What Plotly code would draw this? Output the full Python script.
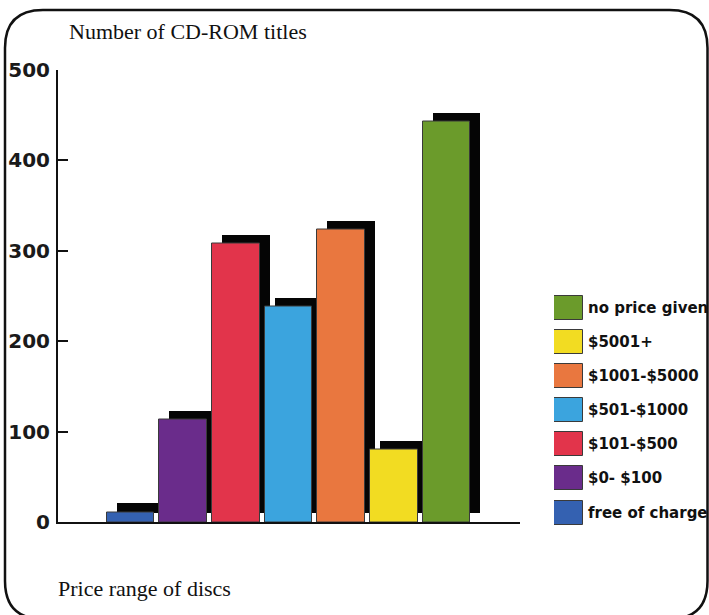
import plotly.graph_objects as go

# Number of CD-ROM titles per price range
categories = ["free of charge", "$0- $100", "$101-$500", "$501-$1000",
              "$1001-$5000", "$5001+", "no price given"]
titles_count = [11, 113, 308, 238, 323, 80, 442]
bar_colors = ["#3461b1", "#6a2c8b", "#e2344b", "#3ba4de",
              "#e9773f", "#f2dc22", "#6b9b2b"]
y_ticks = [0, 100, 200, 300, 400, 500]

W, H = 709, 615


def fx(x):
    return x / W


def fy(y):
    return 1 - y / H


# plot-area geometry in pixels
left_px, right_px = 58, 520
bottom_px, top_px = 522, 69.5
pitch = 52.67
first_center = 130.5
x_range = [(left_px - first_center) / pitch, (right_px - first_center) / pitch]
idx = list(range(len(categories)))

bar_w = 0.9
shadow_dx = 10 / pitch
shadow_base = 10

fig = go.Figure()

# black drop shadows behind each bar
fig.add_trace(go.Bar(
    x=idx, y=titles_count, base=shadow_base, width=bar_w,
    offset=-bar_w / 2 + shadow_dx,
    marker=dict(color="#050505", line=dict(width=0)),
    hoverinfo="skip", showlegend=False,
))

# coloured bars
fig.add_trace(go.Bar(
    x=idx, y=titles_count, width=bar_w,
    marker=dict(color=bar_colors, line=dict(width=1, color="#3a3a3a")),
    showlegend=False,
))

# legend swatches on their own axes
sw_pitch = 34.08
sw_bottom_center = 512.5
n = len(categories)
y2_lo = -(H - sw_bottom_center) / sw_pitch
y2_hi = sw_bottom_center / sw_pitch
fig.add_trace(go.Bar(
    y=idx, x=[1] * n, orientation="h", width=24 / sw_pitch,
    marker=dict(color=bar_colors, line=dict(width=1, color="#3a3a3a")),
    xaxis="x2", yaxis="y2", hoverinfo="skip", showlegend=False,
))

annotations = []
for i, name in enumerate(categories):
    annotations.append(dict(
        xref="x2", yref="y2", x=1, y=i, text=name, showarrow=False,
        xanchor="left", yanchor="middle", xshift=3,
        font=dict(family="DejaVu Sans", size=15, color="#111", weight="bold"),
    ))

annotations.append(dict(
    xref="paper", yref="paper", x=fx(67), y=fy(32), text="Number of CD-ROM titles",
    showarrow=False, xanchor="left", yanchor="middle",
    font=dict(family="Liberation Serif", size=22, color="#111"),
))
annotations.append(dict(
    xref="paper", yref="paper", x=fx(56), y=fy(588), text="Price range of discs",
    showarrow=False, xanchor="left", yanchor="middle",
    font=dict(family="Liberation Serif", size=22, color="#111"),
))

# rounded frame around the whole chart
L, T, R, B, r = 5, 10, 707.5, 619, 38
frame = (
    f"M {fx(L)},{fy(T + r)} "
    f"Q {fx(L)},{fy(T)} {fx(L + r)},{fy(T)} "
    f"L {fx(R - r)},{fy(T)} "
    f"Q {fx(R)},{fy(T)} {fx(R)},{fy(T + r)} "
    f"L {fx(R)},{fy(B - r)} "
    f"Q {fx(R)},{fy(B)} {fx(R - r)},{fy(B)} "
    f"L {fx(L + r)},{fy(B)} "
    f"Q {fx(L)},{fy(B)} {fx(L)},{fy(B - r)} Z"
)

fig.update_layout(
    width=W, height=H,
    autosize=False,
    margin=dict(l=0, r=0, t=0, b=0, pad=0, autoexpand=False),
    paper_bgcolor="white", plot_bgcolor="rgba(0,0,0,0)",
    barmode="overlay", bargap=0,
    showlegend=False,
    xaxis=dict(
        domain=[fx(left_px), fx(right_px)], range=x_range,
        showline=True, linecolor="#111", linewidth=2,
        showgrid=False, zeroline=False, showticklabels=False,
        ticks="inside", tickvals=[x_range[1] - 1e-4], ticklen=9,
        tickwidth=2, tickcolor="#111", fixedrange=True, automargin=False,
    ),
    yaxis=dict(
        domain=[fy(bottom_px), fy(top_px)], range=[0, 500],
        showline=True, linecolor="#111", linewidth=2,
        showgrid=False, zeroline=False,
        tickvals=y_ticks, ticks="inside", ticklen=10, tickwidth=2,
        tickcolor="#111", ticklabelstandoff=2,
        tickfont=dict(family="DejaVu Sans", size=20, color="#1a1a1a", weight="bold"),
        fixedrange=True, automargin=False,
    ),
    xaxis2=dict(domain=[fx(554), fx(583)], range=[0, 1], visible=False,
                anchor="y2", fixedrange=True, automargin=False),
    yaxis2=dict(domain=[0, 1], range=[y2_lo, y2_hi], visible=False,
                anchor="x2", fixedrange=True, automargin=False),
    annotations=annotations,
    shapes=[dict(type="path", path=frame, xref="paper", yref="paper",
                 line=dict(color="#111", width=2.5), layer="above")],
)

fig.write_html("out.html")
